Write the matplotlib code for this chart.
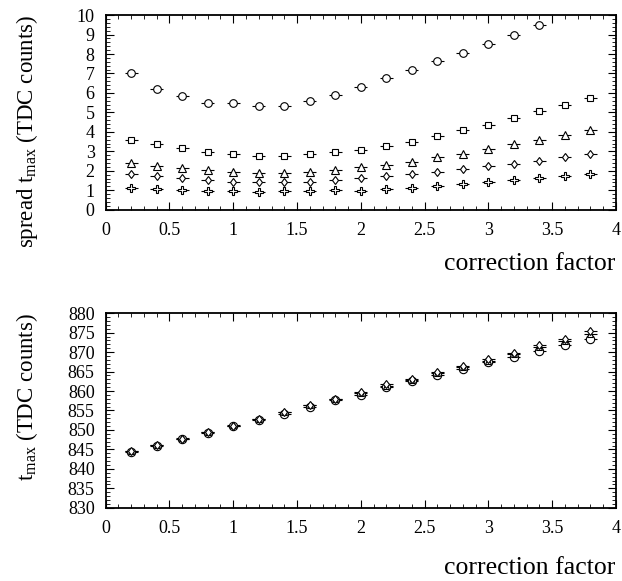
import numpy as np
import matplotlib
matplotlib.use("Agg")
import matplotlib.pyplot as plt
from matplotlib.ticker import MultipleLocator, FormatStrFormatter

plt.rcParams['font.family'] = ['Liberation Serif', 'DejaVu Serif']
plt.rcParams['mathtext.fontset'] = 'custom'
plt.rcParams['mathtext.rm'] = 'Liberation Serif'
plt.rcParams['mathtext.it'] = 'Liberation Serif:italic'

# correction factor values
cf = [0.2, 0.4, 0.6, 0.8, 1.0, 1.2, 1.4, 1.6, 1.8, 2.0,
      2.2, 2.4, 2.6, 2.8, 3.0, 3.2, 3.4, 3.6, 3.8]

# spread of t_max (TDC counts), top panel
spread_circle = [7.01, 6.18, 5.85, 5.48, 5.48, 5.31, 5.31, 5.58, 5.87, 6.30,
                 6.78, 7.19, 7.66, 8.07, 8.52, 9.00, 9.49]
spread_square = [3.60, 3.36, 3.16, 2.99, 2.85, 2.78, 2.78, 2.85, 2.95, 3.09,
                 3.29, 3.50, 3.77, 4.08, 4.37, 4.73, 5.05, 5.39, 5.75]
spread_triangle = [2.41, 2.27, 2.13, 2.03, 1.93, 1.89, 1.89, 1.93, 2.03, 2.20,
                   2.30, 2.47, 2.71, 2.88, 3.12, 3.36, 3.60, 3.84, 4.08]
spread_diamond = [1.83, 1.72, 1.62, 1.52, 1.45, 1.42, 1.42, 1.45, 1.52, 1.62,
                  1.72, 1.83, 1.96, 2.10, 2.27, 2.34, 2.51, 2.71, 2.85]
spread_cross = [1.14, 1.08, 1.01, 0.94, 0.94, 0.91, 0.94, 0.94, 1.01, 0.97,
                1.08, 1.11, 1.24, 1.31, 1.45, 1.52, 1.62, 1.72, 1.86]

# t_max (TDC counts), bottom panel
tmax_circle = [844.4, 846.0, 847.7, 849.3, 851.0, 852.6, 854.2, 856.0, 857.6, 859.1,
               861.1, 862.6, 864.1, 865.75, 867.4, 868.8, 870.4, 871.9, 873.3]
tmax_triangle = [844.6, 846.2, 847.9, 849.5, 851.2, 852.9, 854.5, 856.3, 858.0, 859.6,
                 861.4, 862.9, 864.5, 866.1, 867.8, 869.4, 871.2, 872.9, 874.6]
tmax_diamond = [844.5, 846.1, 847.8, 849.4, 851.1, 852.8, 854.5, 856.3, 858.0, 859.8,
                861.7, 863.2, 864.9, 866.5, 868.1, 869.8, 871.7, 873.4, 875.3]

xerr = 0.05
mk = dict(mfc='white', mec='black', mew=0.8, ecolor='black', elinewidth=0.8,
          capsize=0, ls='none', color='black')

fig = plt.figure(figsize=(6.22, 5.81), dpi=100)
ax1 = fig.add_axes([0.170, 0.639, 0.820, 0.335])
ax2 = fig.add_axes([0.170, 0.126, 0.820, 0.335])

ax1.errorbar(cf[:len(spread_circle)], spread_circle, xerr=xerr, marker='o', ms=5.5, **mk)
ax1.errorbar(cf, spread_square, xerr=xerr, marker='s', ms=5, **mk)
ax1.errorbar(cf, spread_triangle, xerr=xerr, marker='^', ms=5.5, **mk)
ax1.errorbar(cf, spread_diamond, xerr=xerr, marker='d', ms=4.5, **mk)
ax1.errorbar(cf, spread_cross, xerr=xerr, marker='P', ms=5.5, **mk)

ax2.errorbar(cf, tmax_circle, xerr=xerr, marker='o', ms=6, **mk)
ax2.errorbar(cf, tmax_triangle, xerr=xerr, marker='^', ms=4.5, **mk)
ax2.errorbar(cf, tmax_diamond, xerr=xerr, marker='d', ms=4.5, **mk)

ax1.set_xlim(0, 4)
ax1.set_ylim(0, 10)
ax2.set_xlim(0, 4)
ax2.set_ylim(830, 880)

ax1.yaxis.set_major_locator(MultipleLocator(1))
ax1.yaxis.set_minor_locator(MultipleLocator(0.2))
ax2.yaxis.set_major_locator(MultipleLocator(5))
ax2.yaxis.set_minor_locator(MultipleLocator(1))

for ax in (ax1, ax2):
    ax.xaxis.set_major_locator(MultipleLocator(0.5))
    ax.xaxis.set_minor_locator(MultipleLocator(0.1))
    ax.xaxis.set_major_formatter(FormatStrFormatter('%g'))
    ax.yaxis.set_major_formatter(FormatStrFormatter('%g'))
    ax.tick_params(which='both', direction='in', top=True, right=True, labelsize=13)
    ax.tick_params(which='major', length=6, width=0.8)
    ax.tick_params(which='minor', length=3, width=0.6)
    ax.tick_params(axis='x', pad=9)
    ax.tick_params(axis='y', pad=8)
    for s in ax.spines.values():
        s.set_linewidth(1.3)

ax1.set_xlabel('correction factor', fontsize=18.5, loc='right', labelpad=10)
ax2.set_xlabel('correction factor', fontsize=18.5, loc='right', labelpad=14)

ax1.set_ylabel(r'spread t$_{\mathrm{max}}$ (TDC counts)', fontsize=16.5, loc='top')
ax2.set_ylabel(r't$_{\mathrm{max}}$ (TDC counts)', fontsize=16.5, loc='top')
ax1.yaxis.set_label_coords(-0.128, 1.0)
ax2.yaxis.set_label_coords(-0.128, 1.0)

fig.savefig('out.png', dpi=100)
